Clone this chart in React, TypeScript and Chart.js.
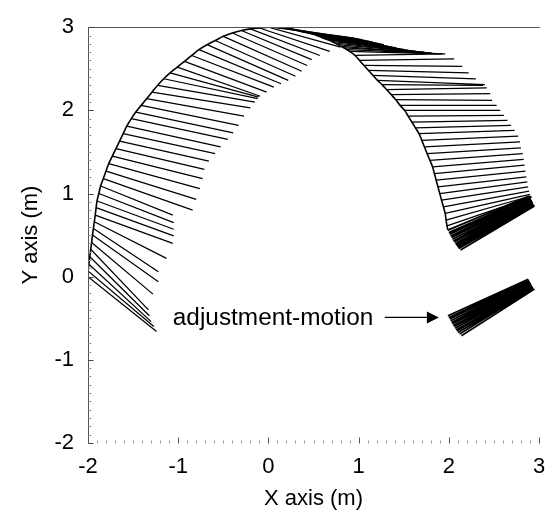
import React, { useEffect, useRef } from "react";
import { Chart, registerables } from "chart.js";

Chart.register(...registerables);

// ---------- axis ranges / ticks ----------
const xRange = [-2, 3];
const yRange = [-2, 3];
const minorStep = 0.1;

// ---------- main sweep: left part (start on arc -> end) ----------
const leftStartX = [-2.00, -2.00, -1.99, -1.98, -1.97, -1.96, -1.95, -1.94, -1.93, -1.92, -1.91, -1.90,
  -1.88, -1.86, -1.83, -1.80, -1.77, -1.73, -1.69, -1.65, -1.61, -1.57, -1.52, -1.47, -1.41, -1.35,
  -1.29, -1.23, -1.16, -1.09, -1.01, -0.93, -0.85, -0.77, -0.68, -0.59, -0.50, -0.40, -0.30, -0.20, -0.10, 0.00];
const leftStartY = [0.00, 0.07, 0.15, 0.24, 0.33, 0.41, 0.50, 0.58, 0.66, 0.74, 0.83, 0.91,
  1.00, 1.09, 1.18, 1.27, 1.36, 1.45, 1.54, 1.63, 1.72, 1.81, 1.90, 1.98, 2.06, 2.14,
  2.22, 2.30, 2.38, 2.45, 2.52, 2.59, 2.66, 2.73, 2.79, 2.84, 2.89, 2.93, 2.96, 2.98, 2.99, 3.00];
const leftEndX = [-1.24, -1.27, -1.30, -1.32, -1.33, -1.28, -1.22, -1.22, -1.13, -1.06, -1.05, -1.05,
  -1.05, -1.06, -0.84, -0.80, -0.76, -0.73, -0.71, -0.66, -0.59, -0.53, -0.45, -0.39, -0.33, -0.27,
  -0.20, -0.15, -0.12, -0.11, -0.09, -0.02, 0.06, 0.14, 0.22, 0.30, 0.37, 0.43, 0.48, 0.57, 0.68, 0.80];
const leftEndY = [-0.66, -0.60, -0.54, -0.47, -0.40, -0.21, -0.06, 0.06, 0.22, 0.40, 0.49, 0.57,
  0.65, 0.74, 0.80, 0.93, 1.06, 1.18, 1.29, 1.39, 1.48, 1.56, 1.65, 1.73, 1.82, 1.93,
  2.03, 2.10, 2.14, 2.16, 2.17, 2.22, 2.28, 2.32, 2.36, 2.41, 2.47, 2.54, 2.61, 2.66, 2.71, 2.76];

// ---------- main sweep: right part ----------
const rightStartX = [0.08, 0.16, 0.24, 0.32, 0.40, 0.48, 0.56, 0.63, 0.70, 0.77, 0.84, 0.90, 0.96, 1.01,
  1.06, 1.11, 1.16, 1.21, 1.26, 1.31, 1.36, 1.41, 1.46, 1.51, 1.55, 1.59, 1.63, 1.67, 1.70, 1.73,
  1.76, 1.79, 1.82, 1.84, 1.86, 1.88, 1.90, 1.92, 1.94, 1.96, 1.97, 1.98];
const rightStartY = [3.00, 2.99, 2.98, 2.96, 2.94, 2.92, 2.89, 2.86, 2.83, 2.79, 2.75, 2.71, 2.66, 2.60,
  2.54, 2.48, 2.42, 2.36, 2.31, 2.25, 2.19, 2.13, 2.06, 2.00, 1.93, 1.86, 1.79, 1.72, 1.64, 1.56,
  1.48, 1.40, 1.32, 1.24, 1.16, 1.08, 1.00, 0.92, 0.84, 0.76, 0.68, 0.61];
const rightEndX = [0.95, 1.04, 1.12, 1.20, 1.28, 1.37, 1.46, 1.55, 1.64, 1.73, 1.81, 1.89, 1.96, 2.06,
  2.15, 2.22, 2.30, 2.40, 2.38, 2.42, 2.46, 2.48, 2.53, 2.57, 2.61, 2.65, 2.69, 2.73, 2.77, 2.79,
  2.80, 2.82, 2.83, 2.84, 2.85, 2.86, 2.87, 2.88, 2.89, 2.90, 2.91, 2.92];
const rightEndY = [2.87, 2.85, 2.83, 2.81, 2.79, 2.76, 2.74, 2.72, 2.71, 2.70, 2.69, 2.68, 2.68, 2.62,
  2.53, 2.45, 2.38, 2.31, 2.30, 2.27, 2.20, 2.12, 2.06, 2.00, 1.94, 1.88, 1.82, 1.76, 1.69, 1.62,
  1.55, 1.48, 1.41, 1.34, 1.27, 1.20, 1.14, 1.08, 1.03, 0.99, 0.97, 0.96];

// ---------- extra overlapping strokes in the dense top band ----------
const topBandStartX = [0.04, 0.12, 0.20, 0.28, 0.36, 0.44, 0.52, 0.60, 0.67, 0.74, 0.81, 0.87];
const topBandStartY = [3.00, 3.00, 2.99, 2.97, 2.95, 2.93, 2.91, 2.88, 2.85, 2.81, 2.77, 2.73];
const topBandEndX = [1.00, 1.08, 1.16, 1.24, 1.33, 1.42, 1.51, 1.60, 1.69, 1.77, 1.85, 1.93];
const topBandEndY = [2.86, 2.84, 2.82, 2.80, 2.77, 2.75, 2.73, 2.71, 2.70, 2.69, 2.68, 2.68];

// ---------- dense bundle at the end of the sweep ----------
const upperBundleStartX = [1.99, 2.00, 2.01, 2.02, 2.03, 2.04, 2.05, 2.06, 2.07, 2.08, 2.09, 2.10, 2.11, 2.13];
const upperBundleStartY = [0.56, 0.53, 0.51, 0.49, 0.47, 0.45, 0.43, 0.42, 0.40, 0.38, 0.37, 0.35, 0.34, 0.32];
const upperBundleEndX = [2.89, 2.90, 2.90, 2.91, 2.91, 2.92, 2.92, 2.93, 2.93, 2.93, 2.94, 2.94, 2.95, 2.95];
const upperBundleEndY = [0.97, 0.96, 0.95, 0.94, 0.93, 0.92, 0.91, 0.90, 0.89, 0.88, 0.87, 0.86, 0.86, 0.85];

// ---------- adjustment-motion bundle ----------
const lowerBundleStartX = [1.99, 2.00, 2.01, 2.02, 2.03, 2.04, 2.05, 2.06, 2.07, 2.08, 2.09, 2.10, 2.12, 2.14];
const lowerBundleStartY = [-0.47, -0.49, -0.51, -0.53, -0.55, -0.57, -0.59, -0.60, -0.62, -0.64, -0.65, -0.67, -0.69, -0.71];
const lowerBundleEndX = [2.88, 2.89, 2.89, 2.90, 2.90, 2.91, 2.91, 2.92, 2.92, 2.93, 2.93, 2.94, 2.94, 2.95];
const lowerBundleEndY = [-0.03, -0.04, -0.05, -0.06, -0.07, -0.08, -0.09, -0.10, -0.11, -0.12, -0.13, -0.14, -0.14, -0.15];

// ---------- annotation ----------
const annotationText = "adjustment-motion";
const annotationAt = [-1.06, -0.585];
const arrowFrom = [1.29, -0.49];
const arrowTo = [1.89, -0.49];

const FONT = "'Liberation Sans', Arial, Helvetica, sans-serif";

type Pt = { x: number; y: number | null };

function segments(sx: number[], sy: number[], ex: number[], ey: number[]): Pt[] {
  const out: Pt[] = [];
  for (let i = 0; i < sx.length; i++) {
    out.push({ x: sx[i], y: sy[i] });
    out.push({ x: ex[i], y: ey[i] });
    out.push({ x: ex[i], y: null });
  }
  return out;
}

const framePlugin = {
  id: "frame",
  afterDraw(chart: any) {
    const { ctx, scales } = chart;
    const xs = scales.x;
    const ys = scales.y;
    const x0 = Math.round(xs.getPixelForValue(xRange[0])) + 0.5;
    const x1 = xs.getPixelForValue(xRange[1]);
    const yT = Math.round(ys.getPixelForValue(yRange[1])) + 0.5;
    const yB = Math.round(ys.getPixelForValue(yRange[0])) + 0.5;
    ctx.save();
    ctx.lineWidth = 1;
    ctx.strokeStyle = "#555";
    ctx.beginPath();
    ctx.moveTo(x0, yT);
    ctx.lineTo(x0, yB);
    ctx.moveTo(x0, yT);
    ctx.lineTo(x1 + 1, yT);
    ctx.stroke();
    const nY = Math.round((yRange[1] - yRange[0]) / minorStep);
    for (let k = 0; k <= nY; k++) {
      const v = yRange[0] + k * minorStep;
      const major = Math.abs(v - Math.round(v)) < 1e-6;
      const py = Math.round(ys.getPixelForValue(v)) + 0.5;
      ctx.strokeStyle = major ? "#444" : "#999";
      ctx.beginPath();
      ctx.moveTo(x0, py);
      ctx.lineTo(x0 + (major ? 5 : 3), py);
      ctx.stroke();
    }
    const nX = Math.round((xRange[1] - xRange[0]) / minorStep);
    for (let k = 0; k <= nX; k++) {
      const v = xRange[0] + k * minorStep;
      const major = Math.abs(v - Math.round(v)) < 1e-6;
      const px = Math.round(xs.getPixelForValue(v)) + 0.5;
      ctx.strokeStyle = major ? "#555" : "#999";
      ctx.beginPath();
      ctx.moveTo(px, yB);
      ctx.lineTo(px, yB - (major ? 6 : 3));
      ctx.stroke();
    }
    ctx.restore();
  },
  afterDatasetsDraw(chart: any) {
    const { ctx, scales } = chart;
    const xs = scales.x;
    const ys = scales.y;
    ctx.save();
    const tx = xs.getPixelForValue(annotationAt[0]);
    const ty = ys.getPixelForValue(annotationAt[1]);
    ctx.fillStyle = "#000";
    ctx.font = `23px ${FONT}`;
    ctx.textBaseline = "alphabetic";
    ctx.textAlign = "left";
    ctx.translate(tx, ty);
    ctx.scale(1.06, 1);
    ctx.fillText(annotationText, 0, 0);
    ctx.restore();
    const ax0 = xs.getPixelForValue(arrowFrom[0]);
    const ay0 = ys.getPixelForValue(arrowFrom[1]);
    const ax1 = xs.getPixelForValue(arrowTo[0]);
    const ay1 = ys.getPixelForValue(arrowTo[1]);
    ctx.save();
    ctx.strokeStyle = "#000";
    ctx.fillStyle = "#000";
    ctx.lineWidth = 1.3;
    ctx.beginPath();
    ctx.moveTo(ax0, ay0);
    ctx.lineTo(ax1 - 8, ay1);
    ctx.stroke();
    ctx.beginPath();
    ctx.moveTo(ax1, ay1);
    ctx.lineTo(ax1 - 12, ay1 - 6);
    ctx.lineTo(ax1 - 12, ay1 + 6);
    ctx.closePath();
    ctx.fill();
    ctx.restore();
  },
};

export default function App() {
  const ref = useRef<HTMLCanvasElement | null>(null);

  useEffect(() => {
    if (!ref.current) return;
    const arc: Pt[] = [];
    for (let i = 0; i < leftStartX.length; i++) arc.push({ x: leftStartX[i], y: leftStartY[i] });
    for (let i = 0; i < rightStartX.length; i++) arc.push({ x: rightStartX[i], y: rightStartY[i] });
    arc.push({ x: upperBundleStartX[0], y: upperBundleStartY[0] });

    const lineDs = (data: Pt[], width: number, tension = 0) => ({
      data,
      borderColor: "#000",
      borderWidth: width,
      pointRadius: 0,
      pointHoverRadius: 0,
      spanGaps: false,
      tension,
      fill: false,
    });

    const chart = new Chart(ref.current, {
      type: "line",
      data: {
        datasets: [
          lineDs(segments(leftStartX, leftStartY, leftEndX, leftEndY), 1.25),
          lineDs(segments(rightStartX, rightStartY, rightEndX, rightEndY), 1.25),
          lineDs(segments(topBandStartX, topBandStartY, topBandEndX, topBandEndY), 1.25),
          lineDs(segments(upperBundleStartX, upperBundleStartY, upperBundleEndX, upperBundleEndY), 1.7),
          lineDs(segments(lowerBundleStartX, lowerBundleStartY, lowerBundleEndX, lowerBundleEndY), 1.7),
          lineDs(arc, 1.6, 0.4),
        ] as any,
      },
      options: {
        animation: false,
        responsive: false,
        events: [],
        layout: { padding: { top: 16, right: 18, left: 0, bottom: 0 } },
        plugins: { legend: { display: false }, tooltip: { enabled: false } },
        scales: {
          x: {
            type: "linear",
            min: xRange[0],
            max: xRange[1],
            grid: { display: false, drawTicks: false },
            border: { display: false },
            ticks: {
              stepSize: 1,
              color: "#000",
              padding: 11,
              maxRotation: 0,
              font: { family: FONT, size: 22 },
            },
            title: {
              display: true,
              text: "X axis (m)",
              color: "#000",
              font: { family: FONT, size: 22 },
              padding: { top: 0, bottom: 8 },
            },
            afterFit: (s: any) => {
              s.height = 77;
            },
          },
          y: {
            type: "linear",
            min: yRange[0],
            max: yRange[1],
            grid: { display: false, drawTicks: false },
            border: { display: false },
            ticks: {
              stepSize: 1,
              color: "#000",
              padding: 14,
              font: { family: FONT, size: 22 },
            },
            title: {
              display: true,
              text: "Y axis (m)",
              color: "#000",
              font: { family: FONT, size: 22 },
              padding: { top: 18, bottom: 0 },
            },
            afterFit: (s: any) => {
              s.width = 88;
            },
          },
        },
      } as any,
      plugins: [framePlugin],
    });
    return () => chart.destroy();
  }, []);

  return (
    <div style={{ position: "fixed", left: 0, top: 0, width: 557, height: 520, background: "#fff" }}>
      <canvas ref={ref} width={557} height={520} style={{ display: "block" }} />
    </div>
  );
}
